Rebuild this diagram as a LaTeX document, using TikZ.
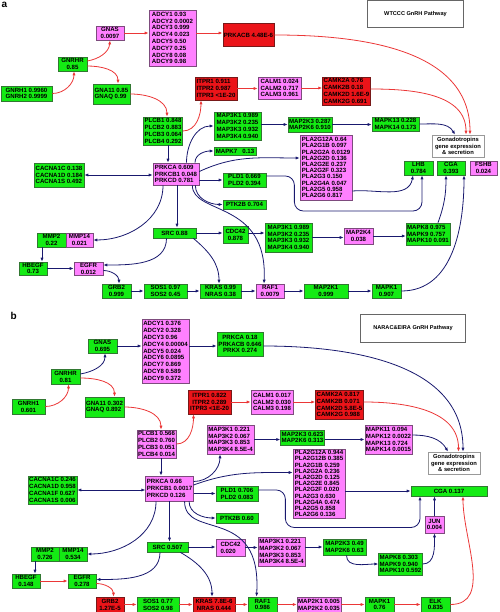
\documentclass[tikz,border=0pt]{standalone}
\usepackage{fontspec}
\setmainfont{Liberation Sans}
\usetikzlibrary{arrows.meta}

\begin{document}
\begin{tikzpicture}[x=1pt, y=-1pt,
        >={Latex[length=4pt,width=3.2pt]},
        gene/.style={draw, line width=0.7pt, inner xsep=1pt, inner ysep=0.4pt, font=\bfseries\fontsize{6.1}{6.8}\selectfont, align=center},
        gnode/.style={gene, fill=nsgreen, draw=nsgreenline},
        pnode/.style={gene, fill=mspink, draw=mspinkline},
        rnode/.style={gene, fill=sigred, draw=sigredline},
        leftlist/.style={align=left},
        tight/.style={font=\bfseries\fontsize{6.1}{6.2}\selectfont},
        infobox/.style={draw=gray!80, line width=0.7pt, fill=white, inner sep=1pt, font=\bfseries\fontsize{5.8}{6.6}\selectfont, align=center},
        titlebox/.style={draw=gray!80!black, line width=0.8pt, fill=white, font=\bfseries\fontsize{5.6}{6.6}\selectfont},
        panel/.style={inner sep=0pt, font=\bfseries\fontsize{10}{10}\selectfont},
        redflow/.style={draw=actred, line width=0.8pt, ->},
        blueflow/.style={draw=linkblue, line width=0.8pt, ->}]
        \definecolor{nsgreen}{RGB}{20,235,20}
        \definecolor{nsgreenline}{RGB}{50,120,50}
        \definecolor{mspink}{RGB}{255,128,255}
        \definecolor{mspinkline}{RGB}{125,75,125}
        \definecolor{sigred}{RGB}{235,20,25}
        \definecolor{sigredline}{RGB}{120,25,25}
        \definecolor{actred}{RGB}{235,55,55}
        \definecolor{linkblue}{RGB}{25,25,110}

        \useasboundingbox (0,0) rectangle (499,612);

        % ---------------- panel a: WTCCC ----------------
        \node[panel] (lbla) at (4.5,4.5) {a};
        \node[titlebox, minimum width=96, minimum height=27] (a-title) at (415.5,14.3) {WTCCC GnRH Pathway};

        \node[pnode, minimum width=28, minimum height=14] (a-gnas) at (110,33) {GNAS\\0.0097};
        \node[pnode, leftlist, minimum width=47, minimum height=56] (a-adcy) at (172.5,38) {ADCY1 0.93\\ADCY2 0.0002\\ADCY3 0.999\\ADCY4 0.023\\ADCY5 0.50\\ADCY7 0.25\\ADCY8 0.08\\ADCY9 0.98};
        \node[rnode, minimum width=51, minimum height=23] (a-prkacb) at (248.5,35) {PRKACB 4.48E-6};
        \node[gnode, minimum width=29, minimum height=14] (a-gnrhr) at (72.5,64) {GNRHR\\0.85};
        \node[gnode, minimum width=51, minimum height=15] (a-gnrh) at (26.5,93.5) {GNRH1 0.9960\\GNRH2 0.9999};
        \node[gnode, leftlist, minimum width=37, minimum height=20] (a-gna) at (111.5,94) {GNA11 0.85\\GNAQ 0.99};
        \node[rnode, leftlist, minimum width=42, minimum height=23] (a-itpr) at (216,88.5) {ITPR1 0.911\\ITPR2 0.987\\ITPR3 <1E-20};
        \node[pnode, leftlist, minimum width=43, minimum height=22] (a-calm) at (279.5,88) {CALM1 0.024\\CALM2 0.717\\CALM3 0.961};
        \node[rnode, leftlist, minimum width=47, minimum height=28] (a-camk) at (346.5,91) {CAMK2A 0.76\\CAMK2B 0.18\\CAMK2D 1.6E-9\\CAMK2G 0.691};
        \node[gnode, leftlist, minimum width=38, minimum height=28] (a-plcb) at (163,131) {PLCB1 0.848\\PLCB2 0.883\\PLCB3 0.064\\PLCB4 0.292};
        \node[gnode, leftlist, minimum width=47, minimum height=28] (a-map3k) at (237.5,126) {MAP3K1 0.989\\MAP3K2 0.235\\MAP3K3 0.932\\MAP3K4 0.940};
        \node[gnode, leftlist, minimum width=44, minimum height=15] (a-map2k3) at (310,124.5) {MAP2K3 0.287\\MAP2K6 0.910};
        \node[gnode, leftlist, minimum width=47, minimum height=14] (a-mapk13) at (395.5,124) {MAPK13 0.228\\MAPK14 0.173};
        \node[infobox, minimum width=52, minimum height=22] (a-gonad) at (458,146) {Gonadotropins\\gene expression\\\& secretion};
        \node[gnode, minimum width=29, minimum height=14] (a-lhb) at (418.5,168) {LHB\\0.784};
        \node[gnode, minimum width=28, minimum height=14] (a-cga) at (451,168) {CGA\\0.393};
        \node[pnode, minimum width=27, minimum height=14] (a-fshb) at (483.5,168) {FSHB\\0.024};
        \node[gnode, minimum width=42, minimum height=8] (a-mapk7) at (235,151) {MAPK7~~~0.13};
        \node[pnode, leftlist, tight, minimum width=52, minimum height=65] (a-pla2g) at (326,167.5) {PLA2G12A 0.64\\PLA2G1B 0.097\\PLA2G2A 0.0129\\PLA2G2D 0.136\\PLA2G2E 0.237\\PLA2G2F 0.323\\PLA2G3 0.150\\PLA2G4A 0.047\\PLA2G5 0.958\\PLA2G6 0.817};
        \node[pnode, leftlist, minimum width=46, minimum height=22] (a-prkc) at (176,174) {PRKCA 0.609\\PRKCB1 0.048\\PRKCD 0.781};
        \node[gnode, leftlist, minimum width=50, minimum height=24] (a-cacna) at (59,175) {CACNA1C 0.138\\CACNA1D 0.184\\CACNA1S 0.492};
        \node[gnode, minimum width=43, minimum height=14] (a-pld) at (244.5,180) {PLD1 0.669\\PLD2 0.394};
        \node[gnode, minimum width=43, minimum height=9] (a-ptk2b) at (244.5,204.5) {PTK2B 0.704};
        \node[gnode, minimum width=43, minimum height=10] (a-src) at (174.5,233) {SRC 0.88};
        \node[gnode, minimum width=25, minimum height=17] (a-cdc42) at (235.5,234.5) {CDC42\\0.878};
        \node[gnode, leftlist, minimum width=47, minimum height=29] (a-map3kb) at (288.5,237.5) {MAP3K1 0.989\\MAP3K2 0.235\\MAP3K3 0.932\\MAP3K4 0.940};
        \node[pnode, minimum width=29, minimum height=16] (a-map2k4) at (358.5,236) {MAP2K4\\0.038};
        \node[gnode, leftlist, minimum width=42, minimum height=22] (a-mapk8) at (428,234) {MAPK8 0.975\\MAPK9 0.757\\MAPK10 0.091};
        \node[gnode, minimum width=29, minimum height=14] (a-mmp2) at (51.5,240) {MMP2\\0.22};
        \node[pnode, minimum width=27, minimum height=14] (a-mmp14) at (79.5,240) {MMP14\\0.021};
        \node[gnode, minimum width=28, minimum height=13] (a-hbegf) at (33,268.5) {HBEGF\\0.73};
        \node[pnode, minimum width=29, minimum height=13] (a-egfr) at (88.5,268.5) {EGFR\\0.012};
        \node[gnode, minimum width=29, minimum height=14] (a-grb2) at (116.5,291) {GRB2\\0.999};
        \node[gnode, minimum width=43, minimum height=14] (a-sos) at (165.5,291) {SOS1 0.97\\SOS2 0.45};
        \node[gnode, minimum width=41, minimum height=14] (a-kras) at (220.5,291) {KRAS 0.99\\NRAS 0.38};
        \node[pnode, minimum width=28, minimum height=14] (a-raf1) at (270,291) {RAF1\\0.0079};
        \node[gnode, minimum width=44, minimum height=14] (a-map2k1) at (326,291) {MAP2K1\\0.999};
        \node[gnode, minimum width=29, minimum height=14] (a-mapk1) at (386.5,291) {MAPK1\\0.907};

        % red links, panel a
        \draw[redflow] (a-gnrh.east) to[out=0,in=-90] ([xshift=1.5pt]a-gnrhr.south);
        \draw[redflow] ([yshift=3pt]a-gnrhr.east) to[out=10,in=-95] (a-gnas.south);
        \draw[redflow] ([yshift=-2pt]a-gnrhr.east) to[out=0,in=90] ([xshift=6.5pt]a-gna.north);
        \draw[redflow] (a-gnas.east) -- (a-gnas.east -| a-adcy.west);
        \draw[redflow] (a-adcy.east |- a-gnas.east) -- (a-gnas.east -| a-prkacb.west);
        \draw[redflow] (a-gna.east) to[out=0,in=90] ([xshift=4pt]a-plcb.north);
        \draw[redflow] (a-plcb.east) to[out=0,in=-90] ([xshift=-15pt]a-itpr.south);
        \draw[redflow] (a-itpr.east) -- (a-itpr.east -| a-calm.west);
        \draw[redflow] (a-calm.east) -- (a-calm.east -| a-camk.west);
        \draw[redflow] ([yshift=2pt]a-camk.east) to[out=0,in=90] ([xshift=8pt]a-gonad.north);
        \draw[redflow] (a-prkacb.east) to[out=0,in=90] ([xshift=12pt]a-gonad.north);

        % blue links, panel a
        \draw[blueflow] ([xshift=5pt]a-plcb.south) -- ([xshift=5pt]a-plcb.south |- a-prkc.north);
        \draw[blueflow] ([xshift=10.5pt]a-prkc.north) to[out=90,in=180] (a-map3k.west);
        \draw[blueflow] ([xshift=19pt]a-prkc.north) to[out=90,in=180] (a-mapk7.west);
        \draw[blueflow] ([yshift=2.5pt]a-prkc.east) to[out=25,in=180] ([yshift=9.5pt]a-pla2g.west);
        \draw[blueflow] (a-prkc.east |- a-pld.west) -- (a-pld.west);
        \draw[blueflow] ([xshift=-4pt]a-prkc.south east) to[out=-90,in=180] (a-ptk2b.west);
        \draw[blueflow] ([xshift=-7pt]a-prkc.south east) .. controls +(0,30) and +(4,-84) .. ([xshift=-6pt]a-raf1.north);
        \draw[blueflow, <->] (a-cacna.east) -- (a-cacna.east -| a-prkc.west);
        \draw[blueflow] ([xshift=-13pt]a-prkc.south) to[out=-90,in=0] (a-mmp14.east);
        \draw[blueflow] ([xshift=1pt]a-prkc.south) -- ([xshift=1pt]a-prkc.south |- a-src.north);
        \draw[blueflow] (a-src.east) -- (a-src.east -| a-cdc42.west);
        \draw[blueflow] (a-cdc42.east |- a-src.east) -- (a-src.east -| a-map3kb.west);
        \draw[blueflow] (a-map3kb.east) -- (a-map3kb.east -| a-map2k4.west);
        \draw[blueflow] (a-map2k4.east) -- (a-map2k4.east -| a-mapk8.west);
        \draw[blueflow] ([xshift=10pt]a-mapk8.north) to[out=70,in=-90] ([xshift=-5pt]a-cga.south);
        \draw[blueflow] ([yshift=-23.5pt]a-pla2g.east) to[out=5,in=-100] ([xshift=-5.5pt]a-lhb.south);
        \draw[blueflow, rounded corners=9pt] ([yshift=4pt]a-pld.east) -| ([xshift=28pt,yshift=-31pt]a-pld.east) -| ([xshift=3.5pt]a-lhb.south);
        \draw[blueflow] (a-mapk13.east) to[out=0,in=120] ([xshift=-3pt]a-gonad.north);
        \draw[blueflow] (a-map3k.east |- a-map2k3.west) -- (a-map2k3.west);
        \draw[blueflow] (a-map2k3.east) -- (a-map2k3.east -| a-mapk13.west);
        \draw[blueflow] ([xshift=-9.5pt]a-mmp2.south) -- ([xshift=-9.5pt]a-mmp2.south |- a-hbegf.north);
        \draw[blueflow] (a-hbegf.east) -- (a-hbegf.east -| a-egfr.west);
        \draw[blueflow] ([xshift=-8pt]a-src.south) to[out=-90,in=0] ([yshift=3.5pt]a-egfr.east);
        \draw[blueflow] ([yshift=-2pt]a-egfr.east) to[out=0,in=90] ([xshift=2.5pt]a-grb2.north);
        \draw[blueflow] (a-grb2.east) -- (a-sos.west);
        \draw[blueflow] (a-sos.east) -- (a-kras.west);
        \draw[blueflow] ([xshift=-3pt]a-src.south east) to[out=-40,in=90] ([xshift=-1.5pt]a-kras.north);
        \draw[blueflow] (a-kras.east) -- (a-raf1.west);
        \draw[blueflow] (a-raf1.east) -- (a-map2k1.west);
        \draw[blueflow] (a-map2k1.east) -- (a-mapk1.west);
        \draw[blueflow] (a-mapk1.east) to[out=0,in=-90] ([xshift=13pt]a-cga.south);

        % ---------------- panel b: NARAC & EIRA ----------------
        \node[panel] (lblb) at (13.8,316.3) {b};
        \node[titlebox, minimum width=105, minimum height=28] (b-title) at (413,328) {NARAC\&EIRA GnRH Pathway};

        \node[gnode, minimum width=29, minimum height=14] (b-gnas) at (102.5,346) {GNAS\\0.695};
        \node[pnode, leftlist, minimum width=47, minimum height=64] (b-adcy) at (165.5,351) {ADCY1 0.376\\ADCY2 0.328\\ADCY3 0.96\\ADCY4 0.00004\\ADCY5 0.024\\ADCY6 0.0895\\ADCY7 0.869\\ADCY8 0.589\\ADCY9 0.372};
        \node[gnode, minimum width=46, minimum height=24] (b-prka) at (240,344) {PRKCA 0.18\\PRKACB 0.646\\PRKX 0.274};
        \node[gnode, minimum width=29, minimum height=15] (b-gnrhr) at (65.5,376.5) {GNRHR\\0.81};
        \node[gnode, minimum width=33, minimum height=15] (b-gnrh1) at (28.5,406.5) {GNRH1\\0.601};
        \node[gnode, leftlist, minimum width=39, minimum height=20] (b-gna) at (104.5,407) {GNA11 0.302\\GNAQ 0.892};
        \node[rnode, minimum width=43, minimum height=24] (b-itpr) at (209.5,402) {ITPR1 0.822\\ITPR2 0.289\\ITPR3 <1E-20};
        \node[pnode, leftlist, minimum width=42, minimum height=24] (b-calm) at (272,402) {CALM1 0.017\\CALM2 0.030\\CALM3 0.198};
        \node[rnode, leftlist, minimum width=47, minimum height=29] (b-camk) at (339.5,404.5) {CAMK2A 0.817\\CAMK2B 0.071\\CAMK2D 5.8E-5\\CAMK2G 0.988};
        \node[pnode, leftlist, minimum width=39, minimum height=28] (b-plcb) at (156.5,444) {PLCB1 0.566\\PLCB2 0.760\\PLCB3 0.051\\PLCB4 0.014};
        \node[pnode, leftlist, minimum width=47, minimum height=29] (b-map3k) at (230.5,439.5) {MAP3K1 0.221\\MAP3K2 0.067\\MAP3K3 0.853\\MAP3K4 8.5E-4};
        \node[gnode, leftlist, minimum width=41, minimum height=15] (b-map2k3) at (302.5,437.5) {MAP2K3 0.623\\MAP2K6 0.313};
        \node[pnode, leftlist, minimum width=47, minimum height=29] (b-mapk11) at (388.5,439.5) {MAPK11 0.094\\MAPK12 0.0022\\MAPK13 0.724\\MAPK14 0.0015};
        \node[infobox, minimum width=52, minimum height=22] (b-gonad) at (454,463) {Gonadotropins\\gene expression\\\& secretion};
        \node[pnode, leftlist, tight, minimum width=52, minimum height=69] (b-pla2g) at (319,483.5) {PLA2G12A 0.944\\PLA2G12B 0.385\\PLA2G1B 0.259\\PLA2G2A 0.236\\PLA2G2D 0.125\\PLA2G2E 0.845\\PLA2G2F 0.020\\PLA2G3 0.630\\PLA2G4A 0.474\\PLA2G5 0.858\\PLA2G6 0.136};
        \node[gnode, minimum width=76, minimum height=10] (b-cga) at (449,491) {CGA 0.137};
        \node[pnode, minimum width=19, minimum height=17] (b-jun) at (434.5,524.5) {JUN\\0.004};
        \node[pnode, leftlist, minimum width=47, minimum height=25] (b-prkc) at (169.5,488.5) {PRKCA 0.66\\PRKCB1 0.0017\\PRKCD 0.126};
        \node[gnode, leftlist, minimum width=49, minimum height=28] (b-cacna) at (52.5,490) {CACNA1C 0.246\\CACNA1D 0.958\\CACNA1F 0.627\\CACNA1S 0.006};
        \node[gnode, minimum width=42, minimum height=15] (b-pld) at (237,493.5) {PLD1 0.706\\PLD2 0.083};
        \node[gnode, minimum width=42, minimum height=10] (b-ptk2b) at (237,518) {PTK2B 0.60};
        \node[gnode, minimum width=41, minimum height=10] (b-src) at (167.5,547) {SRC 0.507};
        \node[pnode, leftlist, minimum width=29, minimum height=17] (b-cdc42) at (230.5,547.5) {CDC42\\0.020};
        \node[pnode, leftlist, minimum width=47, minimum height=29] (b-map3kb) at (281.5,551.5) {MAP3K1 0.221\\MAP3K2 0.067\\MAP3K3 0.853\\MAP3K4 8.5E-4};
        \node[gnode, leftlist, minimum width=43, minimum height=16] (b-map2k3b) at (344.5,547) {MAP2K3 0.49\\MAP2K6 0.63};
        \node[gnode, leftlist, minimum width=43, minimum height=22] (b-mapk8) at (400.5,564) {MAPK8 0.303\\MAPK9 0.940\\MAPK10 0.592};
        \node[gnode, minimum width=28, minimum height=14] (b-mmp2) at (45,554) {MMP2\\0.726};
        \node[gnode, minimum width=28, minimum height=14] (b-mmp14) at (73,554) {MMP14\\0.534};
        \node[gnode, minimum width=28, minimum height=14] (b-hbegf) at (26,581) {HBEGF\\0.148};
        \node[gnode, minimum width=28, minimum height=14] (b-egfr) at (82,581) {EGFR\\0.278};
        \node[rnode, minimum width=28, minimum height=15] (b-grb2) at (110,604.5) {GRB2\\1.27E-5};
        \node[gnode, minimum width=42, minimum height=15] (b-sos) at (158,604.5) {SOS1 0.77\\SOS2 0.98};
        \node[rnode, minimum width=42, minimum height=15] (b-kras) at (214,604.5) {KRAS 7.8E-6\\NRAS 0.444};
        \node[gnode, minimum width=29, minimum height=15] (b-raf1) at (262.5,604.5) {RAF1\\0.986};
        \node[pnode, minimum width=42, minimum height=15] (b-map2k1) at (319,604.5) {MAP2K1 0.005\\MAP2K2 0.035};
        \node[gnode, minimum width=29, minimum height=15] (b-mapk1) at (379.5,604.5) {MAPK1\\0.76};
        \node[gnode, minimum width=29, minimum height=15] (b-elk) at (435.5,604.5) {ELK\\0.835};

        % links, panel b
        \draw[redflow] (b-gnrh1.east) to[out=0,in=-90] ([xshift=3pt]b-gnrhr.south);
        \draw[blueflow] ([yshift=2.5pt]b-gnrhr.east) to[out=10,in=-90] ([xshift=2.5pt]b-gnas.south);
        \draw[redflow] ([yshift=-1.5pt]b-gnrhr.east) to[out=0,in=90] ([xshift=10pt]b-gna.north);
        \draw[blueflow] (b-gnas.east) -- (b-gnas.east -| b-adcy.west);
        \draw[blueflow] (b-adcy.east |- b-gnas.east) -- (b-gnas.east -| b-prka.west);
        \draw[blueflow] (b-prka.east |- b-gnas.east) to[out=0,in=90] ([xshift=9pt]b-gonad.north);
        \draw[redflow] (b-gna.east) to[out=0,in=90] ([xshift=4.5pt]b-plcb.north);
        \draw[redflow] (b-plcb.east) to[out=0,in=-90] ([xshift=-16pt]b-itpr.south);
        \draw[redflow] (b-itpr.east) -- (b-itpr.east -| b-calm.west);
        \draw[redflow] (b-calm.east) -- (b-calm.east -| b-camk.west);
        \draw[redflow] (b-camk.east |- b-calm.east) to[out=0,in=90] ([xshift=4.5pt]b-gonad.north);
        \draw[blueflow] ([yshift=4.5pt]b-mapk11.east) to[out=0,in=120] ([xshift=-6pt]b-gonad.north);
        \draw[blueflow] (b-map3k.east) -- (b-map3k.east -| b-map2k3.west);
        \draw[blueflow] (b-map2k3.east |- b-mapk11.west) -- (b-mapk11.west);
        \draw[blueflow] ([xshift=4.5pt]b-plcb.south) -- ([xshift=4.5pt]b-plcb.south |- b-prkc.north);
        \draw[blueflow] ([yshift=7pt]b-prkc.east) to[out=0,in=-90] ([xshift=-10.5pt]b-map3k.south);
        \draw[blueflow] ([yshift=3.5pt]b-prkc.east) to[out=20,in=180] ([yshift=11pt]b-pla2g.west);
        \draw[blueflow] (b-prkc.east |- b-pld.west) -- (b-pld.west);
        \draw[blueflow] ([xshift=-4.5pt]b-prkc.south east) to[out=-90,in=180] (b-ptk2b.west);
        \draw[blueflow] ([xshift=-9pt]b-prkc.south east) .. controls +(0,39) and +(5.5,-92) .. ([xshift=-6pt]b-raf1.north);
        \draw[blueflow, <->] (b-cacna.east) -- (b-cacna.east -| b-prkc.west);
        \draw[blueflow] ([xshift=-13.5pt]b-prkc.south) to[out=-90,in=0] (b-mmp14.east);
        \draw[blueflow] (b-prkc.south) -- (b-prkc.south |- b-src.north);
        \draw[blueflow] (b-src.east) -- (b-src.east -| b-cdc42.west);
        \draw[blueflow] (b-cdc42.east) -- (b-cdc42.east -| b-map3kb.west);
        \draw[blueflow] (b-map3kb.east |- b-map2k3b.west) -- (b-map2k3b.west);
        \draw[blueflow] ([xshift=2pt]b-map2k3b.south) to[out=-90,in=180] (b-mapk8.west);
        \draw[blueflow] (b-mapk8.east) to[out=0,in=-90] (b-jun.south);
        \draw[blueflow] (b-jun.north) -- (b-jun.north |- b-cga.south);
        \draw[blueflow] (b-pla2g.east |- b-cga.west) -- (b-cga.west);
        \draw[blueflow, rounded corners=9pt] ([yshift=3.5pt]b-pld.east) -| ([xshift=27pt,yshift=-34pt]b-pld.east) -| ([xshift=-29pt]b-cga.south);
        \draw[redflow] (b-elk.east) to[out=0,in=-90] ([xshift=14pt]b-cga.south);
        \draw[blueflow] ([xshift=-10pt]b-mmp2.south) -- ([xshift=-10pt]b-mmp2.south |- b-hbegf.north);
        \draw[redflow] (b-hbegf.east) -- (b-hbegf.east -| b-egfr.west);
        \draw[blueflow] ([xshift=-7.5pt]b-src.south) to[out=-90,in=0] ([yshift=1.5pt]b-egfr.east);
        \draw[redflow] ([yshift=-2.5pt]b-egfr.east) to[out=0,in=90] ([xshift=3.5pt]b-grb2.north);
        \draw[redflow] (b-grb2.east) -- (b-sos.west);
        \draw[redflow] (b-sos.east) -- (b-kras.west);
        \draw[blueflow] ([xshift=-8pt]b-src.south east) to[out=-30,in=90] ([xshift=-2pt]b-kras.north);
        \draw[redflow] (b-kras.east) -- (b-raf1.west);
        \draw[redflow] (b-raf1.east) -- (b-map2k1.west);
        \draw[redflow] (b-map2k1.east) -- (b-mapk1.west);
        \draw[redflow] (b-mapk1.east) -- (b-elk.west);
\end{tikzpicture}
\end{document}
